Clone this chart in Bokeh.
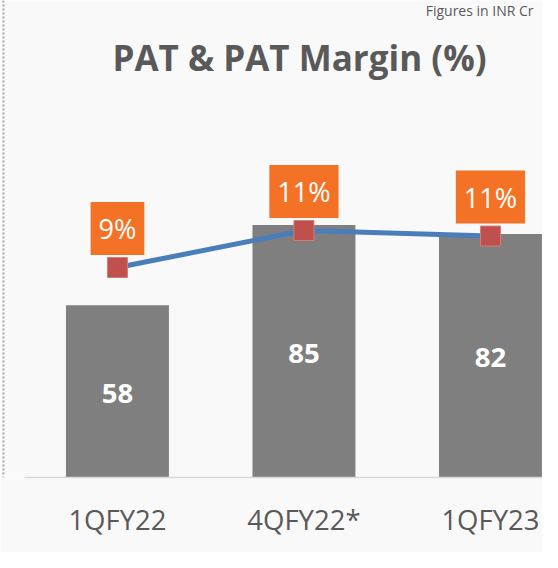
from bokeh.plotting import figure
from bokeh.models import Range1d, FixedTicker, Label, Span
from bokeh.core.properties import value
from bokeh.embed import file_html
from bokeh.resources import INLINE

# ---- data ----
categories = ["1QFY22", "4QFY22*", "1QFY23"]
pat_values = [58, 85, 82]
margin_values = [9.2, 11.2, 10.9]
title_text = "PAT & PAT Margin (%)"
note_text = "Figures in INR Cr"

xs = list(range(len(categories)))
margin_labels = [f"{round(m)}%" for m in margin_values]
pat_labels = [str(v) for v in pat_values]
pat_mid = [v / 2 for v in pat_values]

FONT = "Open Sans"
GREY_TXT = "#595959"

W, H = 542, 552
p = figure(width=W, height=H, output_backend="svg", toolbar_location=None,
           x_range=Range1d(-0.627, 2.279), y_range=Range1d(0, 160.6),
           y_axis_location=None,
           min_border_left=0, min_border_right=0, min_border_top=0,
           min_border_bottom=75)
p.extra_y_ranges = {"margin": Range1d(-2.151, 23.632)}
p.background_fill_color = "#f9f9f9"
p.border_fill_color = "#f9f9f9"
p.outline_line_color = None
p.grid.visible = False

ax = p.xaxis[0]
ax.ticker = FixedTicker(ticks=xs)
ax.bounds = (-0.5, 2.279)
ax.major_label_overrides = {i: c for i, c in zip(xs, categories)}
ax.major_tick_line_color = None
ax.major_tick_out = 0
ax.major_tick_in = 0
ax.minor_tick_line_color = None
ax.axis_line_color = "#d9d9d9"
ax.axis_line_width = 1.5
ax.major_label_text_font = FONT
ax.major_label_text_font_size = "27.5px"
ax.major_label_text_color = GREY_TXT
ax.major_label_standoff = 23

# dotted left edge of the slide panel
p.add_layout(Span(location=-0.611, dimension="height", line_color="#a6a6a6",
                  line_dash="2 2", line_width=2))

p.vbar(x=xs, top=pat_values, width=0.552, fill_color="#7f7f7f", line_color=None)

p.text(x=xs, y=pat_mid, text=pat_labels, text_align="center", text_baseline="middle",
       y_offset=2, text_color="white", text_font=value(FONT), text_font_style="bold",
       text_font_size="27.5px")

p.line(x=xs, y=margin_values, y_range_name="margin", line_color="#4a7ebb", line_width=5)
p.scatter(x=xs, y=margin_values, y_range_name="margin", marker="square", size=20,
          fill_color="#c0504d", line_color="#d47c7a", line_width=1)

p.text(x=xs, y=margin_values, y_range_name="margin", text=margin_labels,
       y_offset=-39, text_align="center", text_baseline="middle",
       text_color="white", text_font=value(FONT), text_font_size="27px",
       background_fill_color="#f47226", padding=8)

p.add_layout(Label(x=0.976, y=141.4, text=title_text,
                   text_align="center", text_baseline="alphabetic", text_color=GREY_TXT,
                   text_font=FONT, text_font_style="bold", text_font_size="35px"))
p.add_layout(Label(x=2.231, y=160.3, text=note_text,
                   text_align="right", text_baseline="top", text_color=GREY_TXT,
                   text_font=FONT, text_font_size="14px"))

open("out.html", "w").write(file_html(p, INLINE))
